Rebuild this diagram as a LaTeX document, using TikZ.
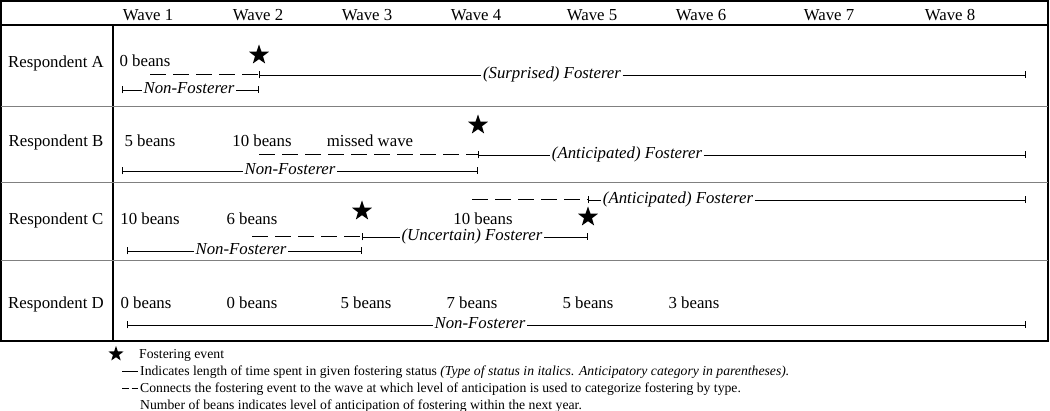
\documentclass[tikz,border=0pt]{standalone}
\usepackage{fontspec}
\setmainfont{Liberation Serif}
\usetikzlibrary{positioning}
\usetikzlibrary{arrows.meta}
\usetikzlibrary{shapes}

\begin{document}
\begin{tikzpicture}[x=1pt,y=-1pt,
   lbl/.style={anchor=base,inner sep=0pt,font=\fontsize{16.8}{20}\selectfont},
   stat/.style={inner sep=1.5pt,text height=0.66em,text depth=0pt,
      font=\fontsize{16.8}{20}\selectfont\itshape},
   span/.style={line width=0.9pt},
   link/.style={line width=1pt,dash pattern=on 16pt off 7pt},
   event/.style={star,star points=5,star point ratio=2.5,fill=black,
      inner sep=0pt,minimum size=21pt},
   key/.style={anchor=base west,inner sep=0pt,font=\fontsize{13.7}{16}\selectfont},
   tk/.tip={Bar[width=7pt,line width=0.9pt]}]
   \useasboundingbox (0,0) rectangle (1050,411);
   % table grid
   \draw[line width=1.5pt] (1,1) rectangle (1048,341);
   \draw[line width=1.2pt] (1,25) -- (1048,25);
   \draw[line width=1.5pt] (113,25) -- (113,341);
   \foreach \y in {107,183,261}
      \draw[gray,line width=1pt] (1,\y) -- (1048,\y);
   % waves and respondents
   \foreach \n/\x in {1/148,2/258,3/367,4/476,5/592,6/701,7/829,8/950}
      \node[lbl] (w\n) at (\x,21) {Wave \n};
   \node[lbl] (rA) at (56,68)  {Respondent A};
   \node[lbl] (rB) at (56,147) {Respondent B};
   \node[lbl] (rC) at (56,225) {Respondent C};
   \node[lbl] (rD) at (56,309) {Respondent D};

   % respondent A
   \node[lbl] (a1) at (145,67) {0 beans};
   \node[event] (sA) at (259,55) {};
   \coordinate (pA1) at (150,75);
   \coordinate (pA2) at (259,75);
   \coordinate (pA8) at (1026,75);
   \node[stat] (fA) at (552,75) {(Surprised) Fosterer};
   \draw[link] (pA1) -- (pA2);
   \draw[span,tk-] (pA2) -- (fA);
   \draw[span,-tk] (fA) -- (pA8);
   \coordinate (qA1) at (122,90);
   \coordinate (qA2) at (259,90);
   \node[stat] (nA) at (189,90) {Non-Fosterer};
   \draw[span,tk-] (qA1) -- (nA);
   \draw[span,-tk] (nA) -- (qA2);

   % respondent B
   \node[lbl] (b1) at (150,147) {5 beans};
   \node[lbl] (b2) at (262,147) {10 beans};
   \node[lbl] (b3) at (370,147) {missed wave};
   \node[event] (sB) at (478,125) {};
   \coordinate (pB2) at (259,155);
   \coordinate (pB4) at (478,155);
   \coordinate (pB8) at (1026,155);
   \node[stat] (fB) at (627,155) {(Anticipated) Fosterer};
   \draw[link] (pB2) -- (pB4);
   \draw[span,tk-] (pB4) -- (fB);
   \draw[span,-tk] (fB) -- (pB8);
   \coordinate (qB1) at (122,171);
   \coordinate (qB4) at (478,171);
   \node[stat] (nB) at (290,171) {Non-Fosterer};
   \draw[span,tk-] (qB1) -- (nB);
   \draw[span,-tk] (nB) -- (qB4);

   % respondent C
   \node[lbl] (c1) at (150,225) {10 beans};
   \node[lbl] (c2) at (252,225) {6 beans};
   \node[lbl] (c4) at (483,225) {10 beans};
   \node[event] (sC1) at (362,211) {};
   \node[event] (sC2) at (588,217) {};
   \coordinate (pC4) at (472,200);
   \coordinate (pC5) at (588,200);
   \coordinate (pC8) at (1026,200);
   \node[stat] (fC1) at (678,200) {(Anticipated) Fosterer};
   \draw[link] (pC4) -- (pC5);
   \draw[span,tk-] (pC5) -- (fC1);
   \draw[span,-tk] (fC1) -- (pC8);
   \coordinate (rC2) at (252,237);
   \coordinate (rC3) at (362,237);
   \coordinate (rC5) at (588,237);
   \node[stat] (fC2) at (472,237) {(Uncertain) Fosterer};
   \draw[link] (rC2) -- (rC3);
   \draw[span,tk-] (rC3) -- (fC2);
   \draw[span,-tk] (fC2) -- (rC5);
   \coordinate (qC1) at (127,251);
   \coordinate (qC3) at (362,251);
   \node[stat] (nC) at (241,251) {Non-Fosterer};
   \draw[span,tk-] (qC1) -- (nC);
   \draw[span,-tk] (nC) -- (qC3);

   % respondent D
   \foreach \n/\x/\b in {1/146/0,2/252/0,3/366/5,4/472/7,5/588/5,6/694/3}
      \node[lbl] (d\n) at (\x,309) {\b{} beans};
   \coordinate (qD1) at (127,325);
   \coordinate (qD8) at (1026,325);
   \node[stat] (nD) at (480,325) {Non-Fosterer};
   \draw[span,tk-] (qD1) -- (nD);
   \draw[span,-tk] (nD) -- (qD8);

   % legend
   \node[event,minimum size=16pt] (kS) at (116,354) {};
   \node[key] (k1) at (139,359) {Fostering event};
   \coordinate (kL1) at (122,372);
   \coordinate (kL2) at (138,372);
   \draw[line width=1pt] (kL1) -- (kL2);
   \node[key] (k2) at (140,376) {Indicates length of time spent in given fostering status
      \textit{(Type of status in italics. Anticipatory category in parentheses).}};
   \coordinate (kD1) at (122,389);
   \coordinate (kD2) at (138,389);
   \draw[line width=1pt,dash pattern=on 7pt off 2.5pt] (kD1) -- (kD2);
   \node[key] (k3) at (140,393) {Connects the fostering event to the wave at which level of
      anticipation is used to categorize fostering by type.};
   \node[key] (k4) at (140,410) {Number of beans indicates level of anticipation of fostering
      within the next year.};
\end{tikzpicture}
\end{document}
